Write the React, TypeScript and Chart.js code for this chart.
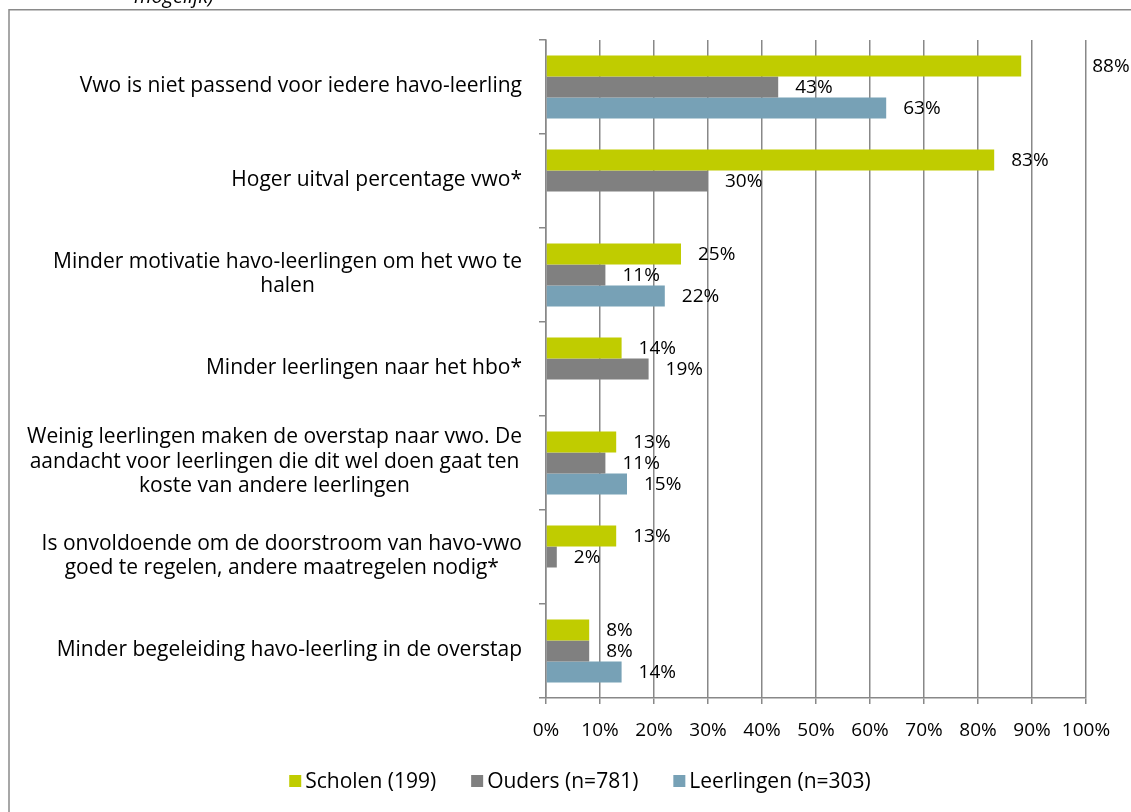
import React, { useEffect, useRef } from "react";
import { Chart, registerables } from "chart.js";

Chart.register(...registerables);

const categories: (string | string[])[] = [
  "Vwo is niet passend voor iedere havo-leerling",
  "Hoger uitval percentage vwo*",
  ["Minder motivatie havo-leerlingen om het vwo te", "halen"],
  "Minder leerlingen naar het hbo*",
  [
    "Weinig leerlingen maken de overstap naar vwo. De",
    "aandacht voor leerlingen die dit wel doen gaat ten",
    "koste van andere leerlingen",
  ],
  ["Is onvoldoende om de doorstroom van havo-vwo", "goed te regelen, andere maatregelen nodig*"],
  "Minder begeleiding havo-leerling in de overstap",
];

const scholen: (number | null)[] = [88, 83, 25, 14, 13, 13, 8];
const ouders: (number | null)[] = [43, 30, 11, 19, 11, 2, 8];
const leerlingen: (number | null)[] = [63, null, 22, null, 15, null, 14];

const seriesNames = ["Scholen (199)", "Ouders (n=781)", "Leerlingen (n=303)"];
const xTicks = [0, 10, 20, 30, 40, 50, 60, 70, 80, 90, 100];

const COLORS = ["#C0CC00", "#808080", "#77A1B6"];
const FONT = "'Open Sans'";
const TEXT_FS = 21;
const NUM_FS = 19;
const GRID = "#888888";

const overlayPlugin = {
  id: "overlay",
  afterDraw(chart: any) {
    const ctx = chart.ctx as CanvasRenderingContext2D;
    const yScale = chart.scales.y;
    ctx.save();
    // frame
    ctx.strokeStyle = "#8a8a8a";
    ctx.lineWidth = 1.5;
    ctx.beginPath();
    ctx.moveTo(9, 830);
    ctx.lineTo(9, 9.75);
    ctx.lineTo(1140, 9.75);
    ctx.stroke();
    // cut-off subtitle
    ctx.fillStyle = "#000";
    ctx.font = `italic 20px ${FONT}`;
    ctx.textAlign = "left";
    ctx.textBaseline = "alphabetic";
    ctx.fillText("mogelijk)", 134, 3);

    // category labels
    ctx.font = `${TEXT_FS}px ${FONT}`;
    ctx.textBaseline = "middle";
    ctx.textAlign = "center";
    const right = 522;
    const lh = 24.5;
    categories.forEach((c, i) => {
      const lines = Array.isArray(c) ? c : [c];
      const w = Math.max(...lines.map((l) => ctx.measureText(l).width));
      const cx = right - w / 2;
      const cy = yScale.getPixelForValue(i) - 1;
      const top = cy - ((lines.length - 1) * lh) / 2;
      lines.forEach((l, k) => ctx.fillText(l, cx, top + k * lh));
    });

    // data labels
    ctx.font = `${NUM_FS}px ${FONT}`;
    ctx.textAlign = "left";
    chart.data.datasets.forEach((ds: any, di: number) => {
      const meta = chart.getDatasetMeta(di);
      meta.data.forEach((el: any, i: number) => {
        const v = ds.data[i];
        if (v === null || v === undefined) return;
        const shift = di === 0 && i === 0 ? 71 : 17;
        ctx.fillText(v + "%", el.x + shift, el.y + 1);
      });
    });

    // legend
    ctx.font = `${TEXT_FS}px ${FONT}`;
    const items = chart.data.datasets.map((ds: any) => ({
      text: ds.label,
      color: ds.backgroundColor,
      w: 12 + 4 + ctx.measureText(ds.label).width,
    }));
    const gap = 35;
    const total = items.reduce((s: number, it: any) => s + it.w, 0) + gap * (items.length - 1);
    let x = 580 - total / 2;
    const ly = 781;
    items.forEach((it: any) => {
      ctx.fillStyle = it.color;
      ctx.fillRect(x, ly - 6, 12, 12);
      ctx.fillStyle = "#000";
      ctx.fillText(it.text, x + 16, ly + 1);
      x += it.w + gap;
    });
    ctx.restore();
  },
};

export default function App() {
  const ref = useRef<HTMLCanvasElement>(null);
  useEffect(() => {
    if (!ref.current) return;
    const chart = new Chart(ref.current, {
      type: "bar",
      data: {
        labels: categories.map((c) => (Array.isArray(c) ? c.join(" ") : c)),
        datasets: [
          { label: seriesNames[0], data: scholen, backgroundColor: COLORS[0] },
          { label: seriesNames[1], data: ouders, backgroundColor: COLORS[1] },
          { label: seriesNames[2], data: leerlingen, backgroundColor: COLORS[2] },
        ],
      },
      options: {
        indexAxis: "y",
        responsive: false,
        animation: false,
        layout: { padding: { left: 8, right: 45, top: 40, bottom: 0 } },
        plugins: { legend: { display: false }, tooltip: { enabled: false } },
        datasets: { bar: { categoryPercentage: 0.67, barPercentage: 1 } },
        scales: {
          x: {
            min: 0,
            max: 100,
            afterBuildTicks: (scale: any) => {
              scale.ticks = xTicks.map((v) => ({ value: v }));
            },
            afterFit: (scale: any) => {
              scale.height = 114;
            },
            grid: { color: GRID, lineWidth: 1.5, tickLength: 6, drawTicks: true },
            border: { color: GRID, width: 1.5 },
            ticks: {
              padding: 15,
              color: "#000",
              font: { family: FONT, size: NUM_FS },
              callback: (v: any) => v + "%",
              maxRotation: 0,
            },
          },
          y: {
            afterFit: (scale: any) => {
              scale.width = 538;
            },
            grid: { drawOnChartArea: false, color: GRID, lineWidth: 1.5, tickLength: 7, offset: true },
            border: { color: GRID, width: 1.5 },
            ticks: { display: false },
          },
        },
      },
      plugins: [overlayPlugin],
    });
    return () => chart.destroy();
  }, []);
  return (
    <div style={{ position: "absolute", left: 0, top: 0, width: 1131, height: 812, background: "#fff" }}>
      <canvas ref={ref} width={1131} height={812} style={{ display: "block" }} />
    </div>
  );
}
